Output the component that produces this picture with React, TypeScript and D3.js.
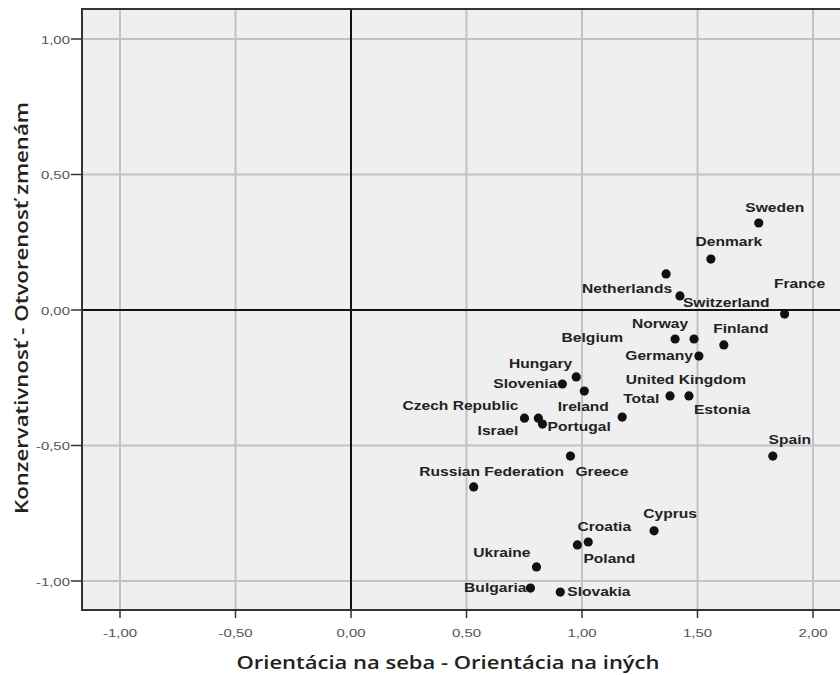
import React from "react";
import * as d3 from "d3";

const countries = [
  "Sweden", "Denmark", "Netherlands", "Switzerland", "France", "Belgium", "Norway",
  "Finland", "Germany", "United Kingdom", "Estonia", "Total", "Hungary", "Slovenia",
  "Ireland", "Czech Republic", "Israel", "Portugal", "Greece", "Russian Federation",
  "Spain", "Cyprus", "Croatia", "Poland", "Ukraine", "Bulgaria", "Slovakia",
];
const xValues = [
  1.765, 1.558, 1.364, 1.424, 1.877, 1.403, 1.485,
  1.614, 1.506, 1.381, 1.463, 1.174, 0.975, 0.915,
  1.010, 0.751, 0.811, 0.829, 0.950, 0.531,
  1.826, 1.312, 1.027, 0.980, 0.803, 0.777, 0.906,
];
const yValues = [
  0.321, 0.188, 0.133, 0.052, -0.015, -0.107, -0.107,
  -0.129, -0.170, -0.317, -0.317, -0.395, -0.247, -0.273,
  -0.299, -0.399, -0.399, -0.421, -0.539, -0.653,
  -0.539, -0.815, -0.856, -0.867, -0.948, -1.026, -1.041,
];
const xTicks = [-1, -0.5, 0, 0.5, 1, 1.5, 2];
const yTicks = [-1, -0.5, 0, 0.5, 1];
const xTitle = "Orientácia na seba - Orientácia na iných";
const yTitle = "Konzervativnosť - Otvorenosť zmenám";

// label placement relative to point: [dx, dy, anchor]
const labelPlacement: [number, number, string][] = [
  [16, -15, "middle"], [18, -17, "middle"], [6, 15, "end"], [3, 7, "start"], [15, -30, "middle"],
  [-52, -1, "end"], [-34, -15, "middle"],
  [17, -16, "middle"], [-6, 0, "end"], [16, -16, "middle"], [5, 14, "start"], [19, -18, "middle"],
  [-4, -13, "end"], [-5, 0, "end"],
  [-1, 16, "middle"], [-6, -12, "end"], [-20, 13, "end"], [5, 3, "start"], [5, 16, "start"],
  [18, -15, "middle"],
  [17, -16, "middle"], [16, -17, "middle"], [16, -15, "middle"], [6, 14, "start"],
  [-6, -14, "end"], [-4, 0, "end"], [7, 0, "start"],
];

const fmt = (v: number) => v.toFixed(2).replace(".", ",");
const SX = 1.3;

export default function App() {
  const W = 840, H = 675;
  const left = 82, top = 9, bottom = 610, right = 860;
  const x = d3.scaleLinear().domain([-1, 2]).range([120, 813]);
  const y = d3.scaleLinear().domain([-1, 1]).range([581, 39]);

  return (
    <svg width={W} height={H} style={{ position: "absolute", left: 0, top: 0, background: "#fff" }}>
      <defs>
        <clipPath id="plot">
          <rect x={left} y={top} width={right - left} height={bottom - top} />
        </clipPath>
      </defs>
      <rect x={left} y={top} width={right - left} height={bottom - top} fill="#efefef" />
      <g clipPath="url(#plot)">
        {xTicks.filter((t) => t !== 0).map((t) => (
          <line key={"gx" + t} x1={x(t)} x2={x(t)} y1={top} y2={bottom} stroke="#c2c2c2" strokeWidth={2} />
        ))}
        {yTicks.filter((t) => t !== 0).map((t) => (
          <line key={"gy" + t} x1={left} x2={right} y1={y(t)} y2={y(t)} stroke="#c2c2c2" strokeWidth={2} />
        ))}
        <line x1={x(0)} x2={x(0)} y1={top} y2={bottom} stroke="#111" strokeWidth={2} />
        <line x1={left} x2={right} y1={y(0)} y2={y(0)} stroke="#111" strokeWidth={2} />
      </g>
      <rect x={left} y={top} width={right - left} height={bottom - top} fill="none" stroke="#333" strokeWidth={2} />
      {yTicks.map((t) => (
        <g key={"ty" + t}>
          <line x1={left - 11} x2={left} y1={y(t)} y2={y(t)} stroke="#333" strokeWidth={1.5} />
          <text transform={`translate(${left - 12},${y(t) + 1}) scale(${SX},1)`} textAnchor="end" dominantBaseline="central"
            fontFamily="Liberation Sans, Arial, sans-serif" fontSize={11.5} fill="#555">{fmt(t)}</text>
        </g>
      ))}
      {xTicks.map((t) => (
        <g key={"tx" + t}>
          <line x1={x(t)} x2={x(t)} y1={bottom} y2={bottom + 8} stroke="#333" strokeWidth={1.5} />
          <text transform={`translate(${x(t)},${bottom + 23}) scale(${SX},1)`} textAnchor="middle" dominantBaseline="central"
            fontFamily="Liberation Sans, Arial, sans-serif" fontSize={11.5} fill="#555">{fmt(t)}</text>
        </g>
      ))}
      {countries.map((c, i) => {
        const px = x(xValues[i]), py = y(yValues[i]);
        const [dx, dy, anchor] = labelPlacement[i];
        return (
          <g key={c}>
            <circle cx={px} cy={py} r={4.6} fill="#111" />
            <text transform={`translate(${px + dx},${py + dy}) scale(${SX},1)`} textAnchor={anchor as any} dominantBaseline="central"
              fontFamily="Liberation Sans, Arial, sans-serif" fontWeight="bold" fontSize={12} fill="#222">{c}</text>
          </g>
        );
      })}
      <text x={448} y={662} textAnchor="middle" dominantBaseline="central" textLength={423} lengthAdjust="spacingAndGlyphs"
        fontFamily="Open Sans, sans-serif" fontWeight={600} fontSize={18} fill="#222">{xTitle}</text>
      <text transform={`translate(21,308) rotate(-90)`} textAnchor="middle" dominantBaseline="central"
        textLength={412} lengthAdjust="spacingAndGlyphs"
        fontFamily="Open Sans, sans-serif" fontWeight={600} fontSize={18} fill="#222">{yTitle}</text>
    </svg>
  );
}
